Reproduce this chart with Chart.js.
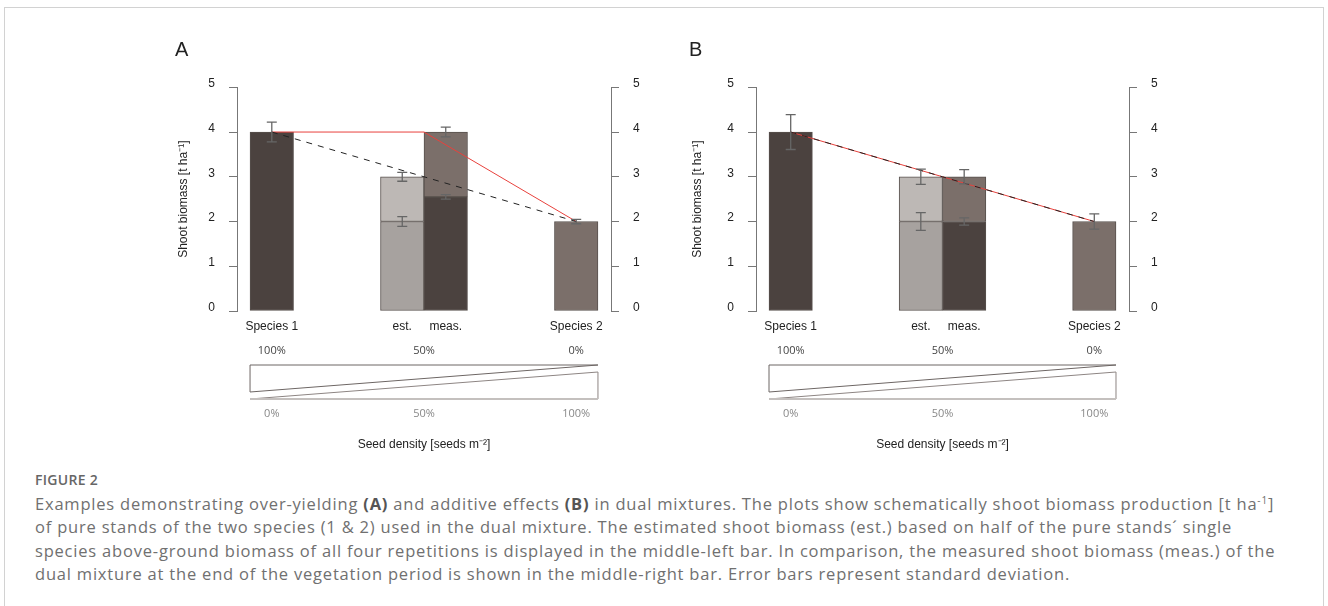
<!DOCTYPE html>
<html>
<head>
<meta charset="utf-8">
<script src="https://cdn.jsdelivr.net/npm/chart.js@4.4.1/dist/chart.umd.min.js"></script>
<style>
  body { margin: 0; width: 1328px; height: 606px; overflow: hidden; background: #fff; font-family: "Open Sans", sans-serif; }
  #frame { position: absolute; left: 4px; top: 7px; width: 1318px; height: 640px; border: 1px solid #d2d2d2; }
  canvas { position: absolute; top: 20px; }
  #caption { position: absolute; left: 35px; top: 468px; color: #707070; font-size: 16.5px; letter-spacing: 0.8px; line-height: 23.6px; white-space: nowrap; }
  #caption .fig { font-weight: 600; color: #666; font-size: 14px; letter-spacing: 0.3px; }
  #caption b { color: #555; }
</style>
</head>
<body>
<div id="frame"></div>
<canvas id="chartA" width="485" height="440" style="left:175px"></canvas>
<canvas id="chartB" width="490" height="440" style="left:689px"></canvas>
<div id="caption">
  <div class="fig">FIGURE 2</div>
  Examples demonstrating over-yielding <b>(A)</b> and additive effects <b>(B)</b> in dual mixtures. The plots show schematically shoot biomass production [t ha<sup style="font-size:10px;line-height:0">-1</sup>]<br>
  of pure stands of the two species (1 &amp; 2) used in the dual mixture. The estimated shoot biomass (est.) based on half of the pure stands´ single<br>
  species above-ground biomass of all four repetitions is displayed in the middle-left bar. In comparison, the measured shoot biomass (meas.) of the<br>
  dual mixture at the end of the vegetation period is shown in the middle-right bar. Error bars represent standard deviation.
</div>
<script>
// bar slots on the x axis (in bar widths) and their labels
const slots = [0, 3, 4, 7];
const slotLabels = ['Species 1', 'est.', 'meas.', 'Species 2'];
// points of the connecting lines
const linePos = [0, 3.5, 7];
// share labels of the seed density wedge
const topPct = ['100%', '50%', '0%'];
const bottomPct = ['0%', '50%', '100%'];

// panel A: over-yielding
const aLower = [4, 2, 2.55, 2];
const aTotal = [null, 3, 4, null];
const aLowerSd = [0.22, 0.11, 0.05, 0.05];
const aTotalSd = [null, 0.10, 0.11, null];
const aRed = [4, 4, 2];
const aDash = [4, 3, 2];

// panel B: additive effects
const bLower = [4, 2, 2, 2];
const bTotal = [null, 3, 3, null];
const bLowerSd = [0.39, 0.20, 0.08, 0.17];
const bTotalSd = [null, 0.17, 0.16, null];
const bRed = [4, 3, 2];
const bDash = [4, 3, 2];

const lowerColors = ['#4b423f', '#a7a29f', '#4b423f', '#7b6f6a'];
const upperColors = [null, '#bdb8b5', '#7b6f6a', null];

const FONT = 'Liberation Sans, Arial, sans-serif';

const panelDecor = {
  id: 'panelDecor',
  afterDatasetsDraw(chart, args, opts) {
    const { ctx } = chart;
    const x = chart.scales.x, y = chart.scales.y;
    ctx.save();
    ctx.strokeStyle = '#666';
    ctx.lineWidth = 1.3;
    const pairs = [[opts.lower, opts.lowerSd], [opts.total, opts.totalSd]];
    slots.forEach((s, i) => {
      const px = x.getPixelForValue(s);
      pairs.forEach(([vals, sds]) => {
        if (vals[i] == null) return;
        const y1 = y.getPixelForValue(vals[i] - sds[i]);
        const y2 = y.getPixelForValue(vals[i] + sds[i]);
        ctx.beginPath();
        ctx.moveTo(px, y1); ctx.lineTo(px, y2);
        ctx.moveTo(px - 5, y1); ctx.lineTo(px + 5, y1);
        ctx.moveTo(px - 5, y2); ctx.lineTo(px + 5, y2);
        ctx.stroke();
      });
    });
    ctx.restore();
  },
  afterDraw(chart) {
    const { ctx, chartArea } = chart;
    const x = chart.scales.x;
    const b = chartArea.bottom;
    const L = x.getPixelForValue(slots[0] - 0.5);
    const R = x.getPixelForValue(slots[slots.length - 1] + 0.5);
    const top = b + 54, bot = b + 88;
    ctx.save();
    ctx.font = '11px "Open Sans", sans-serif';
    ctx.textAlign = 'center';
    ctx.textBaseline = 'middle';
    linePos.forEach((p, i) => {
      const px = x.getPixelForValue(p);
      ctx.fillStyle = '#444';
      ctx.fillText(topPct[i], px, b + 40);
      ctx.fillStyle = '#888';
      ctx.fillText(bottomPct[i], px, b + 103);
    });
    // wedge: species 1 share shrinks, species 2 share grows
    ctx.lineWidth = 1;
    ctx.strokeStyle = '#6d6664';
    ctx.beginPath();
    ctx.moveTo(L, top + 27); ctx.lineTo(L, top); ctx.lineTo(R, top); ctx.closePath();
    ctx.stroke();
    ctx.strokeStyle = '#8d8583';
    ctx.beginPath();
    ctx.moveTo(L, bot); ctx.lineTo(R, top + 7); ctx.lineTo(R, bot);
    ctx.stroke();
    ctx.strokeStyle = '#c4c0be';
    ctx.lineWidth = 2;
    ctx.beginPath();
    ctx.moveTo(L, bot); ctx.lineTo(R, bot);
    ctx.stroke();
    ctx.restore();
  }
};

function yAxis(pos, w, withTitle) {
  return {
    position: pos,
    min: 0,
    max: 5,
    afterFit: (s) => { s.width = w; },
    ticks: { stepSize: 1, padding: 14, labelOffset: -3.5, color: '#222', font: { family: FONT, size: 12 } },
    grid: { drawOnChartArea: false, color: '#777', tickLength: 8 },
    border: { color: '#777' },
    title: {
      display: withTitle,
      text: 'Shoot biomass [t ha⁻¹]',
      color: '#222',
      font: { family: FONT, size: 12 },
      padding: { top: 1, bottom: 0 }
    }
  };
}

function draw_panel(id, letter, lower, total, lowerSd, totalSd, red, dash, leftW, rightW) {
  const up = slots.map((s, i) => i).filter((i) => total[i] != null);
  new Chart(id, {
    type: 'bar',
    plugins: [panelDecor],
    data: {
      datasets: [
        {
          type: 'line',
          data: linePos.map((p, i) => ({ x: p, y: dash[i] })),
          borderColor: '#222',
          borderWidth: 1,
          borderDash: [6, 6],
          pointRadius: 0,
          order: 0,
        },
        {
          type: 'line',
          data: linePos.map((p, i) => ({ x: p, y: red[i] })),
          borderColor: '#e8413c',
          borderWidth: 1,
          pointRadius: 0,
          order: 1,
        },
        {
          data: slots.map((s, i) => ({ x: s, y: lower[i] })),
          backgroundColor: lowerColors,
          borderColor: '#57504d',
          borderWidth: 1,
          borderSkipped: false,
          grouped: false,
          barPercentage: 1,
          categoryPercentage: 1,
          order: 2,
        },
        {
          data: up.map((i) => ({ x: slots[i], y: [lower[i], total[i]] })),
          backgroundColor: up.map((i) => upperColors[i]),
          borderColor: '#57504d',
          borderWidth: 1,
          borderSkipped: false,
          grouped: false,
          barPercentage: 1,
          categoryPercentage: 1,
          order: 2,
        },
      ],
    },
    options: {
      responsive: false,
      animation: false,
      layout: { padding: 0 },
      plugins: {
        legend: { display: false },
        tooltip: { enabled: false },
        title: {
          display: true,
          text: letter,
          align: 'start',
          color: '#222',
          font: { family: FONT, size: 20, weight: 'normal', lineHeight: 0.7 },
          padding: { top: 23, bottom: 30.3 },
        },
        panelDecor: { lower: lower, total: total, lowerSd: lowerSd, totalSd: totalSd },
      },
      scales: {
        x: {
          type: 'linear',
          min: -0.8,
          max: 7.8,
          offset: false,
          afterFit: (s) => { s.height = 149; },
          afterBuildTicks: (s) => { s.ticks = slots.map((v) => ({ value: v })); },
          ticks: {
            autoSkip: false,
            maxRotation: 0,
            padding: 8,
            color: '#222',
            font: { family: FONT, size: 12 },
            callback: (v) => slotLabels[slots.indexOf(v)],
          },
          grid: { display: false, drawTicks: false },
          border: { display: false },
          title: {
            display: true,
            text: 'Seed density [seeds m⁻²]',
            color: '#222',
            font: { family: FONT, size: 12 },
            padding: { top: 0, bottom: 7.8 },
          },
        },
        y: yAxis('left', leftW, true),
        y2: yAxis('right', rightW, false),
      },
    },
  });
}

draw_panel('chartA', 'A', aLower, aTotal, aLowerSd, aTotalSd, aRed, aDash, 62, 49);
draw_panel('chartB', 'B', bLower, bTotal, bLowerSd, bTotalSd, bRed, bDash, 67, 50);
</script>
</body>
</html>
